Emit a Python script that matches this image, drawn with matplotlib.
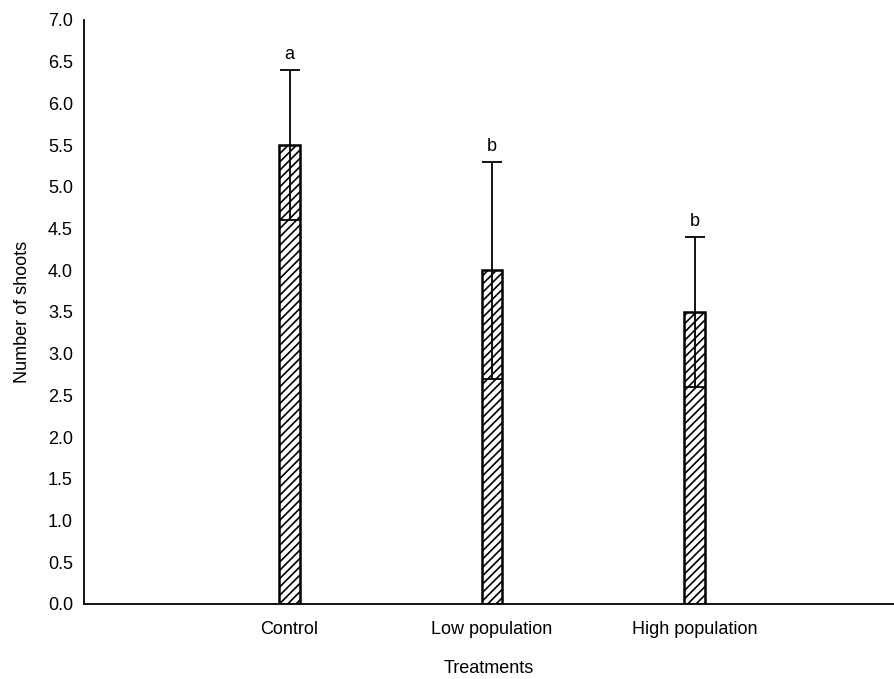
import matplotlib
matplotlib.use("Agg")
import matplotlib.pyplot as plt

plt.rcParams['font.family'] = ['Liberation Sans', 'DejaVu Sans']
plt.rcParams['hatch.linewidth'] = 1.2
plt.rcParams['hatch.color'] = '#666666'

categories = ["Control", "Low population", "High population"]
means = [5.5, 4.0, 3.5]
errors = [0.9, 1.3, 0.9]
letters = ["a", "b", "b"]
yticks = [0.0, 0.5, 1.0, 1.5, 2.0, 2.5, 3.0, 3.5, 4.0, 4.5, 5.0, 5.5, 6.0, 6.5, 7.0]

FS = 13

fig = plt.figure(figsize=(8.94, 6.79), dpi=100)
ax = fig.add_axes([84/894, 1-604/679, 1-84/894, (604-20)/679])

pos = [1, 2, 3]
ax.bar(pos, means, width=0.1, color='white', edgecolor='black', linewidth=1.8,
       hatch='////', zorder=2)
ax.errorbar(pos, means, yerr=errors, fmt='none', ecolor='black', elinewidth=1.3,
            capsize=7, capthick=1.3, zorder=3)
for x, m, e, l in zip(pos, means, errors, letters):
    ax.text(x, m + e + 0.08, l, ha='center', va='bottom', fontsize=FS)

ax.set_xlim(-0.015, 3.985)
ax.set_ylim(0, 7.0)
ax.set_xticks(pos)
ax.set_xticklabels(categories, fontsize=FS)
ax.set_yticks(yticks)
ax.set_yticklabels([f"{v:.1f}" for v in yticks], fontsize=FS)
ax.tick_params(length=0, pad=8)
ax.tick_params(axis='x', pad=12)
for s in ['top', 'right']:
    ax.spines[s].set_visible(False)
ax.spines['left'].set_linewidth(1.3)
ax.spines['bottom'].set_linewidth(1.3)
ax.set_xlabel("Treatments", fontsize=FS, labelpad=16)
ax.set_ylabel("Number of shoots", fontsize=FS, labelpad=12)

fig.savefig("out.png", dpi=100)
